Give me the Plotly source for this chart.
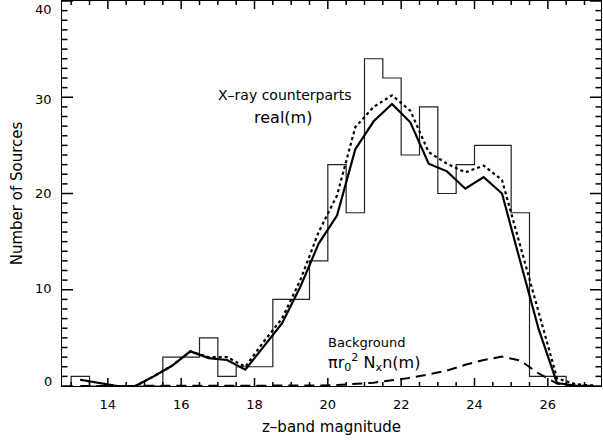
import plotly.graph_objects as go

# ---- data ----
# histogram: left edges of 0.5-mag bins and counts
hist_left = [13.0, 13.5, 14.0, 14.5, 15.0, 15.5, 16.0, 16.5, 17.0, 17.5, 18.0, 18.5, 19.0,
             19.5, 20.0, 20.5, 21.0, 21.5, 22.0, 22.5, 23.0, 23.5, 24.0, 24.5, 25.0, 25.5, 26.0]
hist_counts = [1, 0, 0, 0, 0, 3, 3, 5, 1, 2, 2, 9, 9,
               13, 23, 18, 34, 32, 24, 29, 20, 23, 25, 25, 18, 1, 1]
hist_end = 26.5

# model curves at bin centres
curve_mag = [13.25, 13.75, 14.25, 14.75, 15.25, 15.75, 16.25, 16.75, 17.25, 17.75,
             18.25, 18.75, 19.25, 19.75, 20.25, 20.75, 21.25, 21.75, 22.25, 22.75,
             23.25, 23.75, 24.25, 24.75, 25.25, 25.75, 26.25, 26.75, 27.25]
real_m = [0.65, 0.35, 0.0, 0.0, 1.0, 2.1, 3.6, 2.9, 2.7, 1.7,
          4.1, 6.5, 10.3, 14.8, 17.7, 24.6, 27.5, 29.3, 27.4, 23.1,
          22.3, 20.5, 21.7, 20.0, 12.9, 5.9, 0.3, 0.05, 0.0]
total_m = [0.65, 0.35, 0.0, 0.0, 1.0, 2.1, 3.6, 3.0, 3.0, 2.0,
           4.6, 7.0, 11.0, 16.0, 19.8, 26.9, 29.0, 30.2, 28.6, 24.3,
           23.1, 22.2, 22.9, 21.4, 14.6, 7.6, 0.8, 0.2, 0.05]
background = [0.0, 0.0, 0.0, 0.0, 0.0, 0.0, 0.0, 0.0, 0.0, 0.0,
              0.0, 0.02, 0.03, 0.05, 0.1, 0.2, 0.35, 0.6, 0.85, 1.2,
              1.6, 2.2, 2.7, 3.05, 2.65, 1.3, 0.25, 0.03, 0.0]

x_tick_vals = [14, 16, 18, 20, 22, 24, 26]
x_tick_text = ["14", "16", "18", "20", "22", "24", "26"]
y_tick_vals = [0, 10, 20, 30, 40]
y_tick_text = ["0", "10", "20", "30", "40"]

FONT = "DejaVu Sans"
X_RANGE = [12.75, 27.45]
Y_RANGE = [0, 40]
W, H = 603, 440
M = dict(l=62, r=2, t=1, b=54)
px_per_x = (W - M["l"] - M["r"]) / (X_RANGE[1] - X_RANGE[0])
px_per_y = (H - M["t"] - M["b"]) / (Y_RANGE[1] - Y_RANGE[0])

fig = go.Figure()

# histogram outline (step)
hx = [hist_left[0]] + hist_left + [hist_end]
hy = [0] + hist_counts + [0]
fig.add_trace(go.Scatter(x=hx, y=hy, mode="lines", line=dict(shape="hv", color="#222", width=1.2),
                         showlegend=False, hoverinfo="skip"))
fig.add_trace(go.Scatter(x=curve_mag, y=total_m, mode="lines",
                         line=dict(color="black", width=2.2, dash="dot"), showlegend=False))
fig.add_trace(go.Scatter(x=curve_mag, y=real_m, mode="lines",
                         line=dict(color="black", width=2.2), showlegend=False))
fig.add_trace(go.Scatter(x=curve_mag, y=background, mode="lines",
                         line=dict(color="black", width=2, dash="10px,6px"), showlegend=False))

# ---- axis ticks (IDL style: inside, on all four sides), drawn as one line trace ----
tx, ty = [], []


def x_ticks(values, length_px):
    d = length_px / px_per_y
    for v in values:
        tx.extend([v, v, None, v, v, None])
        ty.extend([Y_RANGE[0], Y_RANGE[0] + d, None, Y_RANGE[1], Y_RANGE[1] - d, None])


def y_ticks(values, length_px):
    d = length_px / px_per_x
    for v in values:
        tx.extend([X_RANGE[0], X_RANGE[0] + d, None, X_RANGE[1], X_RANGE[1] - d, None])
        ty.extend([v, v, None, v, v, None])


x_minor = [13 + 0.5 * i for i in range(30) if 13 + 0.5 * i < X_RANGE[1]]
y_minor = list(range(Y_RANGE[0], Y_RANGE[1] + 1))
x_ticks([v for v in x_minor if v not in x_tick_vals], 4)
x_ticks(x_tick_vals, 8)
y_ticks([v for v in y_minor if v not in y_tick_vals], 5.5)
y_ticks(y_tick_vals, 11)
fig.add_trace(go.Scatter(x=tx, y=ty, mode="lines", line=dict(color="black", width=1.5),
                         showlegend=False, hoverinfo="skip", cliponaxis=False))

annotations = []
y_shift = {0: 5, 10: 1, 20: 0, 30: -2, 40: -8}
for v, t in zip(y_tick_vals, y_tick_text):
    annotations.append(dict(x=0, xref="paper", xanchor="right", xshift=-8, y=v, yref="y",
                            yanchor="middle", yshift=y_shift[v], text=t, showarrow=False,
                            font=dict(family=FONT, size=13, color="black")))
annotations += [
    dict(x=18.84, y=30.25, xref="x", yref="y", text="X\u2013ray counterparts", showarrow=False,
         font=dict(family=FONT, size=14, color="black")),
    dict(x=18.79, y=27.9, xref="x", yref="y", text="real(m)", showarrow=False,
         font=dict(family=FONT, size=16, color="black")),
    dict(x=21.08, y=4.56, xref="x", yref="y", text="Background", showarrow=False,
         font=dict(family=FONT, size=13, color="black")),
    dict(x=19.95, y=2.48, xref="x", yref="y", xanchor="left",
         text="\u03c0r<sub>0</sub><sup>2</sup> N<sub>x</sub>n(m)", showarrow=False,
         font=dict(family=FONT, size=16, color="black")),
]

fig.update_layout(
    width=W, height=H,
    margin=M,
    plot_bgcolor="white", paper_bgcolor="white",
    font=dict(family=FONT, size=13, color="black"),
    annotations=annotations,
    xaxis=dict(range=X_RANGE, tickvals=x_tick_vals, ticktext=x_tick_text, ticks="",
               showline=True, linecolor="black", linewidth=1.2, mirror=True,
               showgrid=False, zeroline=False, ticklabelstandoff=6,
               tickfont=dict(family=FONT, size=13, color="black"),
               title=dict(text="z\u2013band magnitude", standoff=10,
                          font=dict(family=FONT, size=15, color="black"))),
    yaxis=dict(range=Y_RANGE, tickvals=y_tick_vals, ticks="",
               showline=True, linecolor="black", linewidth=1.2, mirror=True,
               showgrid=False, zeroline=False, showticklabels=False,
               title=dict(text="Number of Sources", standoff=34,
                          font=dict(family=FONT, size=15, color="black"))),
)

fig.write_html("out.html", config={"displayModeBar": False},
               post_script="document.body.style.margin='0px';")
